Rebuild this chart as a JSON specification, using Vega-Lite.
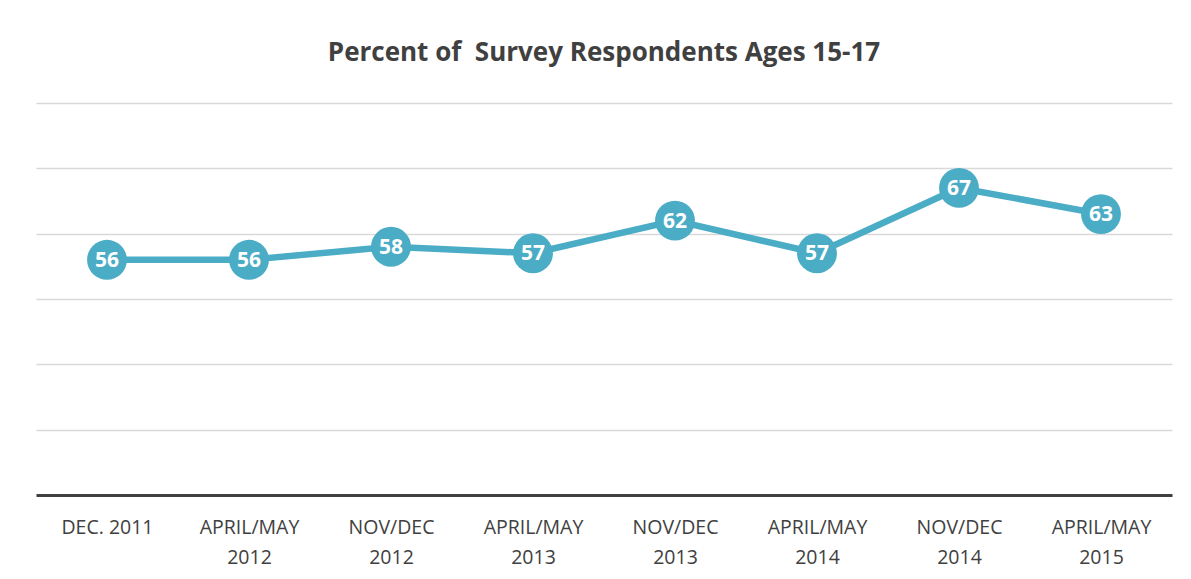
{
  "$schema": "https://vega.github.io/schema/vega-lite/v6.json",
  "width": 1136,
  "height": 392,
  "autosize": {"type": "none"},
  "padding": {"left": 36, "top": 103, "right": 19, "bottom": 84},
  "background": "white",
  "title": {
    "text": "Percent of\u00a0 Survey Respondents Ages 15-17",
    "font": "Open Sans",
    "fontSize": 26,
    "fontWeight": "bold",
    "color": "#404040",
    "anchor": "middle",
    "offset": 37
  },
  "config": {
    "view": {"stroke": null},
    "font": "Open Sans"
  },
  "data": {
    "values": [
      {"period": "DEC. 2011", "pct": 56},
      {"period": "APRIL/MAY\n2012", "pct": 56},
      {"period": "NOV/DEC\n2012", "pct": 58},
      {"period": "APRIL/MAY\n2013", "pct": 57},
      {"period": "NOV/DEC\n2013", "pct": 62},
      {"period": "APRIL/MAY\n2014", "pct": 57},
      {"period": "NOV/DEC\n2014", "pct": 67},
      {"period": "APRIL/MAY\n2015", "pct": 63}
    ]
  },
  "encoding": {
    "x": {
      "field": "period",
      "type": "nominal",
      "sort": null,
      "scale": {"type": "point", "padding": 0.5},
      "axis": {
        "title": null,
        "labelAngle": 0,
        "labelExpr": "split(datum.value, '\\n')",
        "labelFontSize": 19.5,
        "labelColor": "#404040",
        "labelLineHeight": 30,
        "labelPadding": 23,
        "ticks": false,
        "domainColor": "#404040",
        "domainWidth": 3,
        "grid": false
      }
    },
    "y": {
      "field": "pct",
      "type": "quantitative",
      "scale": {"domain": [20, 80], "nice": false, "zero": false},
      "axis": {
        "title": null,
        "labels": false,
        "ticks": false,
        "domain": false,
        "values": [30, 40, 50, 60, 70, 80],
        "gridColor": "#d9d9d9",
        "gridWidth": 1.5
      }
    }
  },
  "layer": [
    {"mark": {"type": "line", "color": "#4BACC6", "strokeWidth": 6.5}},
    {"mark": {"type": "point", "shape": "circle", "filled": true, "opacity": 1, "color": "#4BACC6", "size": 1590}},
    {
      "mark": {"type": "text", "color": "white", "fontSize": 21, "fontWeight": "bold", "baseline": "middle", "dy": 1},
      "encoding": {"text": {"field": "pct", "type": "quantitative"}}
    }
  ]
}
